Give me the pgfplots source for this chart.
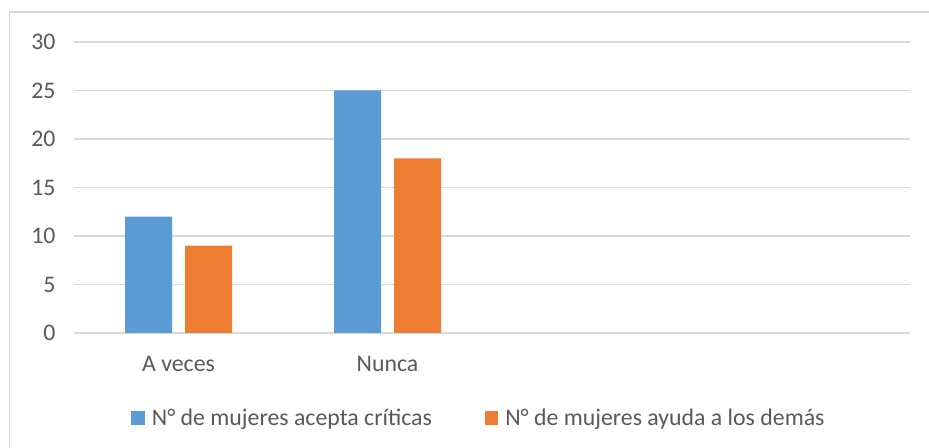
\documentclass[border=0pt]{standalone}
\usepackage{pgfplots}
\pgfplotsset{compat=1.18}
\usepackage{fontspec}
\setmainfont{Carlito}
\definecolor{xblue}{HTML}{5B9BD5}
\definecolor{xorange}{HTML}{ED7D31}
\definecolor{gridc}{HTML}{D9D9D9}
\definecolor{textc}{HTML}{595959}
\begin{document}
\begin{tikzpicture}[x=1bp,y=1bp]
\useasboundingbox (0,0) rectangle (929,448);
\fill[white] (0,0) rectangle (929,448);
\draw[gridc, line width=1.2bp] (9.5,-2) -- (9.5,436) -- (931,436);
\begin{axis}[
  at={(74bp,115bp)}, anchor=south west,
  scale only axis, width=836bp, height=291bp,
  xmin=-0.5, xmax=3.5, ymin=0, ymax=30,
  ytick={0,5,...,30},
  xtick={0,1}, xticklabels={A veces,Nunca},
  ybar=13bp, bar width=47bp,
  ymajorgrids, grid style={gridc, line width=1.2bp},
  axis line style={draw=none},
  major tick length=0pt,
  /pgf/number format/assume math mode=true,
  tick label style={font=\fontsize{23.8bp}{28bp}\selectfont, text=textc},
  yticklabel style={xshift=-15bp},
  xticklabel style={anchor=base, yshift=-39bp},
  legend columns=2,
  legend style={draw=none, fill=none, at={(0.4844,-0.292)}, anchor=center,
    font=\fontsize{23.8bp}{28bp}\selectfont, text=textc,
    /tikz/every odd column/.append style={column sep=5bp},
    /tikz/every even column/.append style={column sep=51bp}},
  legend image code/.code={\fill[#1,draw=none] (0bp,-6.8bp) rectangle (13.5bp,6.8bp);},
]
\addplot[fill=xblue, draw=none] coordinates {(0,12) (1,25)};
\addplot[fill=xorange, draw=none] coordinates {(0,9) (1,18)};
\legend{N° de mujeres acepta críticas, N° de mujeres ayuda a los demás}
\end{axis}
\end{tikzpicture}
\end{document}
